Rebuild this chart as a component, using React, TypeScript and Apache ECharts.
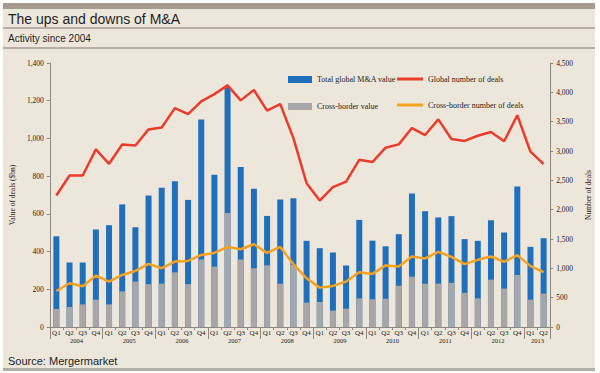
import React, { useEffect, useRef } from "react";
import * as echarts from "echarts";

const quarters = [
  "Q1", "Q2", "Q3", "Q4", "Q1", "Q2", "Q3", "Q4", "Q1", "Q2", "Q3", "Q4",
  "Q1", "Q2", "Q3", "Q4", "Q1", "Q2", "Q3", "Q4", "Q1", "Q2", "Q3", "Q4",
  "Q1", "Q2", "Q3", "Q4", "Q1", "Q2", "Q3", "Q4", "Q1", "Q2", "Q3", "Q4",
  "Q1", "Q2",
];
const years = ["2004", "2005", "2006", "2007", "2008", "2009", "2010", "2011", "2012", "2013"];

// Value of deals ($bn)
const totalValue = [
  481, 342, 342, 517, 540, 650, 529, 697, 738, 773, 674, 1101,
  807, 1271, 848, 733, 589, 676, 683, 457, 418, 395, 326, 568,
  458, 428, 492, 708, 614, 581, 588, 466, 457, 566, 501, 745,
  425, 471,
];
const crossValue = [
  96, 106, 120, 145, 120, 189, 241, 227, 230, 290, 227, 358,
  320, 604, 358, 312, 327, 230, 329, 129, 133, 87, 97, 152,
  147, 150, 219, 267, 230, 230, 234, 181, 152, 251, 204, 276,
  145, 177,
];
// Number of deals
const globalDeals = [
  2241, 2583, 2583, 3027, 2782, 3112, 3095, 3368, 3401, 3731, 3629, 3846,
  3970, 4118, 3863, 4039, 3687, 3800, 3220, 2452, 2155, 2384, 2479, 2850,
  2812, 3056, 3113, 3391, 3272, 3539, 3204, 3172, 3260, 3323, 3166, 3610,
  2988, 2775,
];
const crossDeals = [
  614, 745, 694, 876, 774, 887, 955, 1076, 1002, 1115, 1126, 1228,
  1263, 1365, 1325, 1411, 1263, 1365, 1070, 830, 671, 700, 774, 933,
  905, 1050, 1030, 1200, 1168, 1280, 1195, 1072, 1145, 1202, 1112, 1225,
  1038, 935,
];

const categories = quarters.map((q, i) => q + " " + years[Math.floor(i / 4)]);

const SERIF = "'Liberation Serif', 'DejaVu Serif', serif";
const SANS = "'Liberation Sans', Arial, sans-serif";
const AXIS = "#8c8781";

const fmt = (v: number) => String(v).replace(/\B(?=(\d{3})+(?!\d))/g, ",");

export default function App() {
  const ref = useRef<HTMLDivElement>(null);
  useEffect(() => {
    if (!ref.current) return;
    const chart = echarts.init(ref.current, undefined, { renderer: "svg" });
    const legendText = { fontFamily: SERIF, fontSize: 8, color: "#222", lineHeight: 10 };
    const mkLegend = (name: string, left: number, top: number, w: number, h: number) => ({
      data: [name],
      left,
      top,
      icon: "rect",
      itemWidth: w,
      itemHeight: h,
      padding: 0,
      selectedMode: false,
      textStyle: legendText,
    });
    const lastYearStart = quarters.length - (quarters.length % 4 || 4);
    chart.setOption({
      animation: false,
      backgroundColor: "#ede7db",
      graphic: [
        { type: "rect", shape: { x: 0, y: 0, width: 600, height: 3 }, style: { fill: "#ffffff" } },
        { type: "rect", shape: { x: 0, y: 0, width: 3, height: 373 }, style: { fill: "#ffffff" } },
        { type: "rect", shape: { x: 595, y: 0, width: 5, height: 373 }, style: { fill: "#ffffff" } },
        { type: "rect", shape: { x: 0, y: 371, width: 600, height: 2 }, style: { fill: "#ffffff" } },
        { type: "rect", shape: { x: 3, y: 3, width: 592, height: 6 }, style: { fill: "#a59b90" } },
        { type: "rect", shape: { x: 3, y: 368, width: 592, height: 3 }, style: { fill: "#b3aea8" } },
        { type: "line", shape: { x1: 3, y1: 28, x2: 595, y2: 28 }, style: { stroke: "#a49c93", lineWidth: 1.5 } },
        { type: "line", shape: { x1: 3, y1: 48, x2: 595, y2: 48 }, style: { stroke: "#a49c93", lineWidth: 1.5 } },
        {
          type: "text", x: 8, y: 19,
          style: { text: "The ups and downs of M&A", font: `14px ${SANS}`, fill: "#1e1e1e", verticalAlign: "middle" },
        },
        {
          type: "text", x: 8, y: 38,
          style: { text: "Activity since 2004", font: `10px ${SANS}`, fill: "#1e1e1e", verticalAlign: "middle" },
        },
        {
          type: "text", x: 8, y: 361,
          style: { text: "Source: Mergermarket", font: `11px ${SANS}`, fill: "#1e1e1e", verticalAlign: "middle" },
        },
      ],
      legend: [
        mkLegend("Total global M&A value", 288, 74.5, 24, 7),
        mkLegend("Cross-border value", 288, 101.5, 24, 7),
        mkLegend("Global number of deals", 397, 74, 26, 3),
        mkLegend("Cross-border number of deals", 397, 100, 26, 3),
      ],
      grid: { left: 36, right: 46, top: 63, bottom: 46 },
      xAxis: [
        {
          type: "category",
          data: categories,
          axisLine: { show: true, lineStyle: { color: AXIS } },
          axisTick: { show: true, interval: 0, length: 3, lineStyle: { color: AXIS } },
          axisLabel: {
            interval: 0,
            formatter: (v: string) => v.split(" ")[0],
            fontFamily: SERIF,
            fontSize: 7,
            color: "#222",
            margin: 2,
          },
        },
        {
          type: "category",
          data: categories,
          position: "bottom",
          axisLine: { show: false },
          axisTick: {
            show: true,
            interval: (i: number) => i % 4 === 0,
            length: 12,
            lineStyle: { color: AXIS },
          },
          axisLabel: {
            interval: (i: number) =>
              i >= lastYearStart && quarters.length - lastYearStart < 3 ? i === lastYearStart : i % 4 === 1,
            formatter: (v: string) => v.split(" ")[1],
            fontFamily: SERIF,
            fontSize: 6.5,
            color: "#222",
            margin: 9.5,
            padding: [0, 0, 0, 14],
          },
        },
      ],
      yAxis: [
        {
          type: "value",
          min: 0,
          max: 1400,
          interval: 200,
          position: "left",
          axisLine: { show: true, lineStyle: { color: AXIS } },
          axisTick: { show: true, length: 3, lineStyle: { color: AXIS } },
          splitLine: { show: false },
          axisLabel: { formatter: fmt, fontFamily: SERIF, fontSize: 7.5, color: "#222", margin: 6 },
          name: "Value of deals ($bn)",
          nameLocation: "middle",
          nameGap: 17,
          nameTextStyle: { fontFamily: SERIF, fontSize: 7.5, color: "#222" },
        },
        {
          type: "value",
          min: 0,
          max: 4500,
          interval: 500,
          position: "right",
          axisLine: { show: true, lineStyle: { color: AXIS } },
          axisTick: { show: true, length: 3, lineStyle: { color: AXIS } },
          splitLine: { show: false },
          axisLabel: { formatter: fmt, fontFamily: SERIF, fontSize: 7.5, color: "#222", margin: 6 },
          name: "Number of deals",
          nameLocation: "middle",
          nameGap: 19,
          nameTextStyle: { fontFamily: SERIF, fontSize: 7.5, color: "#222" },
        },
      ],
      series: [
        {
          name: "Total global M&A value",
          type: "bar",
          data: totalValue,
          barWidth: 6,
          barGap: "-100%",
          itemStyle: { color: "#1f6fbd" },
        },
        {
          name: "Cross-border value",
          type: "bar",
          data: crossValue,
          barWidth: 6,
          barGap: "-100%",
          itemStyle: { color: "#a7a6a8" },
        },
        {
          name: "Global number of deals",
          type: "line",
          yAxisIndex: 1,
          data: globalDeals,
          symbol: "none",
          showSymbol: false,
          lineStyle: { color: "#ec3b2b", width: 2.5 },
          itemStyle: { color: "#ec3b2b" },
        },
        {
          name: "Cross-border number of deals",
          type: "line",
          yAxisIndex: 1,
          data: crossDeals,
          symbol: "none",
          showSymbol: false,
          lineStyle: { color: "#f7a21e", width: 2.5 },
          itemStyle: { color: "#f7a21e" },
        },
      ],
    });
    return () => chart.dispose();
  }, []);
  return (
    <div
      ref={ref}
      style={{ position: "fixed", left: 0, top: 0, width: 600, height: 373 }}
    />
  );
}
